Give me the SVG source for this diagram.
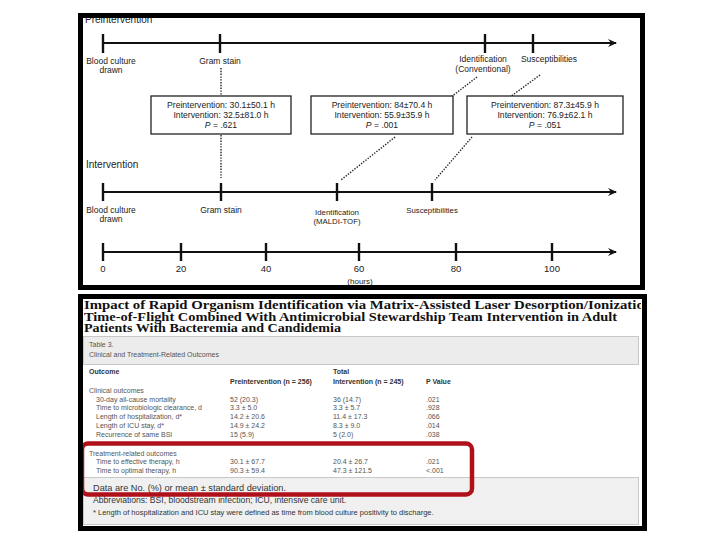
<svg xmlns="http://www.w3.org/2000/svg" width="720" height="540" viewBox="0 0 720 540">
<style>
  .t{font-family:"Liberation Sans",Arial,sans-serif;fill:#222}
  .lbl{font-size:8.5px}
  .box{fill:#fff;stroke:#222;stroke-width:1.3}
  .bx{font-size:8.6px;text-anchor:middle}
  .ax{stroke:#111;stroke-width:2.2;fill:none}
  .tk{stroke:#111;stroke-width:2.4}
  .dot{stroke:#222;stroke-width:1.4;stroke-dasharray:1.4 1.4;fill:none}
  .ttl{font-family:"Liberation Serif","Times New Roman",serif;font-weight:bold;font-size:11.5px;fill:#111}
  .tb{font-family:"Liberation Sans",Arial,sans-serif;font-size:7px;fill:#555}
  .tbh{font-family:"Liberation Sans",Arial,sans-serif;font-size:7px;font-weight:bold;fill:#333}
  .ft{font-family:"Liberation Sans",Arial,sans-serif;fill:#333}
  .frame{fill:none;stroke:#000;stroke-width:5}
</style>
<defs>
  <marker id="arr" markerWidth="10" markerHeight="10" refX="8" refY="5" orient="auto" markerUnits="userSpaceOnUse">
    <path d="M0,1 L9,5 L0,9 L3,5 Z" fill="#111"/>
  </marker>
  <clipPath id="clipB"><rect x="83" y="298" width="558" height="228"/></clipPath>
</defs>
<rect width="720" height="540" fill="#fff"/>

<!-- Top panel -->
<g id="top-panel">
  <rect x="80.5" y="15.5" width="562" height="272" fill="#fff"/>
  <text class="t" x="85" y="23" font-size="10">Preintervention</text>
  <text class="t" x="86" y="168" font-size="10">Intervention</text>
</g>

<g id="connectors">
  <line class="ax" x1="103" y1="43" x2="616" y2="43" marker-end="url(#arr)"/>
  <line class="ax" x1="103" y1="192" x2="616" y2="192" marker-end="url(#arr)"/>
  <line class="ax" x1="103" y1="252" x2="616" y2="252" marker-end="url(#arr)"/>
  <line class="dot" x1="221" y1="68" x2="221" y2="96"/>
  <line class="dot" x1="221" y1="135" x2="221" y2="178"/>
  <line class="dot" x1="477" y1="77" x2="451" y2="97"/>
  <line class="dot" x1="395" y1="137" x2="341" y2="180"/>
  <line class="dot" x1="540" y1="75" x2="510" y2="97"/>
  <line class="dot" x1="472" y1="137" x2="435" y2="180"/>
</g>

<g id="pre-blood"><line class="tk" x1="103" y1="34" x2="103" y2="53"/><text class="t lbl" x="111" y="64" text-anchor="middle">Blood culture</text><text class="t lbl" x="111" y="73" text-anchor="middle">drawn</text></g>
<g id="pre-gram"><line class="tk" x1="220" y1="34" x2="220" y2="53"/><text class="t lbl" x="220" y="64" text-anchor="middle">Gram stain</text></g>
<g id="pre-ident"><line class="tk" x1="485" y1="34" x2="485" y2="53"/><text class="t lbl" x="483" y="62" text-anchor="middle">Identification</text><text class="t lbl" x="483" y="72" text-anchor="middle">(Conventional)</text></g>
<g id="pre-susc"><line class="tk" x1="533" y1="34" x2="533" y2="53"/><text class="t lbl" x="549" y="62" text-anchor="middle">Susceptibilities</text></g>

<g id="box-gram"><rect class="box" x="151" y="96" width="140" height="38"/><text class="t bx" x="221" y="108">Preintervention: 30.1±50.1 h</text><text class="t bx" x="221" y="118">Intervention: 32.5±81.0 h</text><text class="t bx" x="221" y="128"><tspan font-style="italic">P</tspan> =  .621</text></g>
<g id="box-ident"><rect class="box" x="311" y="96" width="142" height="38"/><text class="t bx" x="382" y="108">Preintervention: 84±70.4 h</text><text class="t bx" x="382" y="118">Intervention: 55.9±35.9 h</text><text class="t bx" x="382" y="128"><tspan font-style="italic">P</tspan> = .001</text></g>
<g id="box-susc"><rect class="box" x="467" y="96" width="156" height="38"/><text class="t bx" x="545" y="108">Preintervention: 87.3±45.9 h</text><text class="t bx" x="545" y="118">Intervention: 76.9±62.1 h</text><text class="t bx" x="545" y="128"><tspan font-style="italic">P</tspan> = .051</text></g>

<g id="int-blood"><line class="tk" x1="103" y1="183" x2="103" y2="201"/><text class="t lbl" x="111" y="213" text-anchor="middle">Blood culture</text><text class="t lbl" x="111" y="222" text-anchor="middle">drawn</text></g>
<g id="int-gram"><line class="tk" x1="221" y1="183" x2="221" y2="201"/><text class="t lbl" x="221" y="213" text-anchor="middle">Gram stain</text></g>
<g id="int-ident"><line class="tk" x1="337" y1="183" x2="337" y2="201"/><text class="t" font-size="7.8" x="337" y="215" text-anchor="middle">Identification</text><text class="t" font-size="7.8" x="337" y="224" text-anchor="middle">(MALDI-TOF)</text></g>
<g id="int-susc"><line class="tk" x1="432" y1="183" x2="432" y2="201"/><text class="t" font-size="7.8" x="432" y="213" text-anchor="middle">Susceptibilities</text></g>

<g id="hours-axis">
  <line class="tk" x1="103" y1="243" x2="103" y2="261"/>
  <line class="tk" x1="181" y1="243" x2="181" y2="261"/>
  <line class="tk" x1="266" y1="243" x2="266" y2="261"/>
  <line class="tk" x1="359" y1="243" x2="359" y2="261"/>
  <line class="tk" x1="456" y1="243" x2="456" y2="261"/>
  <line class="tk" x1="552" y1="243" x2="552" y2="261"/>
  <g class="t" font-size="9.5" text-anchor="middle">
    <text x="103" y="272">0</text><text x="181" y="272">20</text><text x="266" y="272">40</text><text x="359" y="272">60</text><text x="456" y="272">80</text><text x="552" y="272">100</text>
    <text x="360" y="284" font-size="8">(hours)</text>
  </g>
</g>
<rect class="frame" x="80.5" y="15.5" width="562" height="272"/>

<!-- Bottom panel: table screenshot -->
<g id="table-panel" clip-path="url(#clipB)">
  <rect x="80" y="296" width="566" height="236" fill="#fff"/>
  <text class="ttl" x="84" y="309" textLength="568" lengthAdjust="spacingAndGlyphs">Impact of Rapid Organism Identification via Matrix-Assisted Laser Desorption/Ionization</text>
  <text class="ttl" x="84" y="320.5" textLength="533" lengthAdjust="spacingAndGlyphs">Time-of-Flight Combined With Antimicrobial Stewardship Team Intervention in Adult</text>
  <text class="ttl" x="84" y="332" textLength="257" lengthAdjust="spacingAndGlyphs">Patients With Bacteremia and Candidemia</text>
  <rect x="83.5" y="336.5" width="555" height="28" fill="#ececec" stroke="#c8c8c8"/>
  <text class="tb" x="89" y="347" fill="#444">Table 3.</text>
  <text class="tb" x="89" y="357" fill="#444">Clinical and Treatment-Related Outcomes</text>

  <text class="tbh" x="89" y="374">Outcome</text>
  <text class="tbh" x="333" y="374">Total</text>
  <text class="tbh" x="230" y="384">Preintervention (n = 256)</text>
  <text class="tbh" x="333" y="384">Intervention (n = 245)</text>
  <text class="tbh" x="426" y="384">P Value</text>

  <text class="tb" x="89" y="393">Clinical outcomes</text>
  <g class="tb">
    <text x="96" y="402">30-day all-cause mortality</text><text x="230" y="402">52 (20.3)</text><text x="333" y="402">36 (14.7)</text><text x="426" y="402">.021</text>
    <text x="96" y="410">Time to microbiologic clearance, d</text><text x="230" y="410">3.3 ± 5.0</text><text x="333" y="410">3.3 ± 5.7</text><text x="426" y="410">.928</text>
    <text x="96" y="419">Length of hospitalization, d*</text><text x="230" y="419">14.2 ± 20.6</text><text x="333" y="419">11.4 ± 17.3</text><text x="426" y="419">.066</text>
    <text x="96" y="428">Length of ICU stay, d*</text><text x="230" y="428">14.9 ± 24.2</text><text x="333" y="428">8.3 ± 9.0</text><text x="426" y="428">.014</text>
    <text x="96" y="437">Recurrence of same BSI</text><text x="230" y="437">15 (5.9)</text><text x="333" y="437">5 (2.0)</text><text x="426" y="437">.038</text>
  </g>
  <text class="tb" x="89" y="456">Treatment-related outcomes</text>
  <g class="tb">
    <text x="96" y="464">Time to effective therapy, h</text><text x="230" y="464">30.1 ± 67.7</text><text x="333" y="464">20.4 ± 26.7</text><text x="426" y="464">.021</text>
    <text x="96" y="473">Time to optimal therapy, h</text><text x="230" y="473">90.3 ± 59.4</text><text x="333" y="473">47.3 ± 121.5</text><text x="426" y="473">&lt;.001</text>
  </g>

  <rect x="83.5" y="477.5" width="555" height="47" fill="#f0f0f0" stroke="#c8c8c8"/>
  <text class="ft" x="93" y="491" font-size="9.2">Data are No. (%) or mean ± standard deviation.</text>
  <text class="ft" x="93" y="503" font-size="8.6">Abbreviations: BSI, bloodstream infection; ICU, intensive care unit.</text>
  <text class="ft" x="93" y="515" font-size="7.5" fill="#555">* Length of hospitalization and ICU stay were defined as time from blood culture positivity to discharge.</text>

  <rect x="82" y="443.5" width="390" height="51" rx="6" fill="none" stroke="#b0101a" stroke-width="4.5"/>
</g>
<rect class="frame" x="80.5" y="296.5" width="564" height="232"/>
</svg>
